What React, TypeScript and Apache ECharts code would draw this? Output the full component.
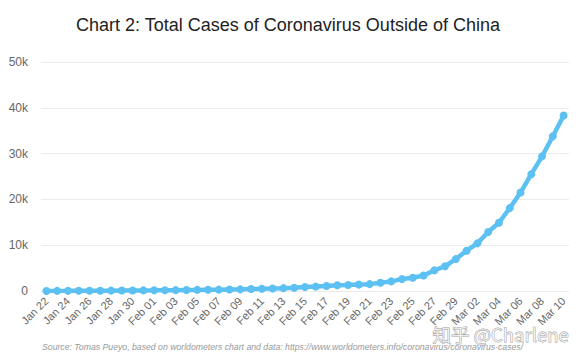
import React, { useEffect, useRef } from "react";
import * as echarts from "echarts";

const title = "Chart 2: Total Cases of Coronavirus Outside of China";
const source =
  "Source: Tomas Pueyo, based on worldometers chart and data: https://www.worldometers.info/coronavirus/coronavirus-cases/";
const watermark = "知乎 @Charlene";

const janDays = [22, 23, 24, 25, 26, 27, 28, 29, 30, 31];
const febDays = Array.from({ length: 29 }, (_, i) => i + 1);
const marDays = [1, 2, 3, 4, 5, 6, 7, 8, 9, 10];
const pad = (d: number) => (d < 10 ? "0" + d : "" + d);
const dates = [
  ...janDays.map((d) => "Jan " + pad(d)),
  ...febDays.map((d) => "Feb " + pad(d)),
  ...marDays.map((d) => "Mar " + pad(d)),
];

// Total cases outside China
const janCases = [10, 20, 30, 45, 60, 70, 80, 95, 110, 135];
const febCases = [
  150, 170, 190, 215, 240, 270, 300, 330, 360, 420,
  480, 540, 620, 720, 880, 960, 1100, 1250, 1300, 1400,
  1500, 1800, 2100, 2600, 2900, 3400, 4500, 5400, 7000,
];
const marCases = [8800, 10400, 12900, 14900, 18100, 21500, 25500, 29400, 33800, 38300];
const cases = [...janCases, ...febCases, ...marCases];

const yTicks = [0, 10000, 20000, 30000, 40000, 50000];

export default function App() {
  const ref = useRef<HTMLDivElement>(null);
  useEffect(() => {
    document.body.style.margin = "0";
    if (!ref.current) return;
    const chart = echarts.init(ref.current, null, { renderer: "svg" });
    chart.setOption({
      animation: false,
      backgroundColor: "#ffffff",
      title: {
        text: title,
        left: "center",
        top: 11,
        textStyle: {
          fontFamily: "Liberation Sans",
          fontSize: 18,
          fontWeight: "normal",
          color: "#222222",
        },
      },
      grid: { left: 41, right: 7, top: 62, bottom: 69 },
      xAxis: {
        type: "category",
        data: dates,
        boundaryGap: true,
        axisLine: { show: false },
        axisTick: { show: false },
        axisLabel: {
          interval: 1,
          rotate: 45,
          margin: 8,
          fontSize: 11,
          color: "#666666",
          fontFamily: "Liberation Sans",
        },
      },
      yAxis: {
        type: "value",
        min: yTicks[0],
        max: yTicks[yTicks.length - 1],
        interval: 10000,
        axisLine: { show: false },
        axisTick: { show: false },
        splitLine: { lineStyle: { color: "#ebebeb", width: 1 } },
        axisLabel: {
          margin: 13,
          fontSize: 12,
          color: "#666666",
          fontFamily: "Liberation Sans",
          formatter: (v: number) => (v === 0 ? "0" : v / 1000 + "k"),
        },
      },
      series: [
        {
          type: "line",
          data: cases,
          symbol: "circle",
          symbolSize: 8,
          showSymbol: true,
          showAllSymbol: true,
          lineStyle: { color: "#5cc0f2", width: 4.5 },
          itemStyle: { color: "#5cc0f2" },
        },
      ],
      graphic: [
        {
          type: "text",
          left: 42,
          top: 342,
          style: {
            text: source,
            fontFamily: "Liberation Sans",
            fontStyle: "italic",
            fontSize: 8.7,
            fill: "#999999",
          },
        },
        {
          type: "text",
          left: 432,
          top: 324,
          style: {
            text: watermark,
            fontFamily: "Noto Sans CJK SC",
            fontSize: 18.5,
            fill: "rgba(255,255,255,0.7)",
            stroke: "#9a9a9a",
            lineWidth: 0.8,
          },
        },
      ],
    });
    return () => chart.dispose();
  }, []);
  return <div ref={ref} style={{ width: 576, height: 360 }} />;
}
